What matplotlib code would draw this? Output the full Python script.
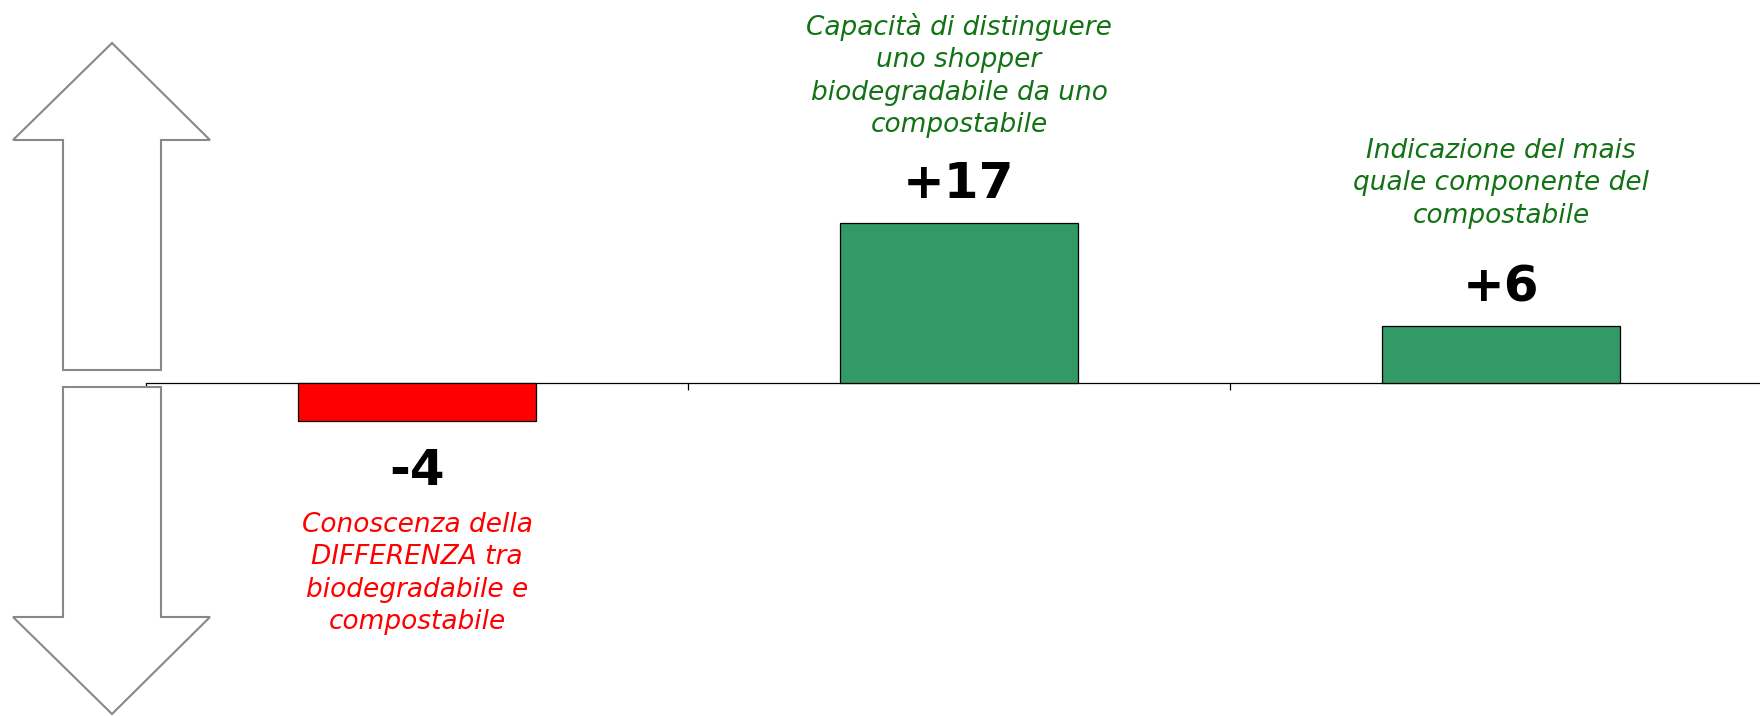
import matplotlib.pyplot as plt
from matplotlib.patches import Polygon

# data
labels = [
    "Conoscenza della\nDIFFERENZA tra\nbiodegradabile e\ncompostabile",
    "Capacità di distinguere\nuno shopper\nbiodegradabile da uno\ncompostabile",
    "Indicazione del mais\nquale componente del\ncompostabile",
]
values = [-4, 17, 6]
value_text = ["-4", "+17", "+6"]

W, H = 1760, 716
fig = plt.figure(figsize=(W / 100, H / 100), dpi=100)
ax = fig.add_axes([146 / W, 0, 1626 / W, 1])

x = list(range(len(values)))
colors = ["#FF0000" if v < 0 else "#339966" for v in values]
text_colors = ["#FF0000" if v < 0 else "#127214" for v in values]
bars = ax.bar(x, values, width=0.44, color=colors, edgecolor="black", linewidth=0.9, zorder=3)

ax.set_xlim(-0.5, 2.5)
ax.set_ylim(-35.3, 40.6)

# axis line through zero, ticks at category boundaries
for s in ["left", "right", "top"]:
    ax.spines[s].set_visible(False)
ax.spines["bottom"].set_position(("data", 0))
ax.spines["bottom"].set_linewidth(0.9)
ax.set_xticks([-0.5, 0.5, 1.5, 2.5])
ax.set_xticklabels([])
ax.tick_params(axis="x", direction="out", length=5, width=0.9)
ax.set_yticks([])
ax.patch.set_alpha(0)

# value labels
for b, v, t in zip(bars, values, value_text):
    cx = b.get_x() + b.get_width() / 2
    off = 18 if v >= 0 else -46
    ax.annotate(t, (cx, v), xytext=(0, off), textcoords="offset points",
                ha="center", va="baseline", fontsize=36, fontweight="bold")

# category descriptions
label_tops = [512, 13, 138]
for i, (lab, c, top) in enumerate(zip(labels, text_colors, label_tops)):
    ax.text(i, 1 - top / H, lab, transform=ax.get_xaxis_transform(), ha="center", va="top",
            fontsize=19, style="italic", color=c, linespacing=1.32)

# decorative up / down arrows on the left
def px(pts):
    return [(a / W, 1 - b / H) for a, b in pts]

up = px([(112, 43), (210, 140), (161, 140), (161, 370), (63, 370), (63, 140), (13, 140)])
down = px([(63, 387), (161, 387), (161, 617), (210, 617), (112, 714), (13, 617), (63, 617)])
for poly in (up, down):
    fig.patches.append(Polygon(poly, closed=True, transform=fig.transFigure,
                               facecolor="white", edgecolor="#888888", linewidth=1.5))

fig.savefig("out.png", dpi=100)
